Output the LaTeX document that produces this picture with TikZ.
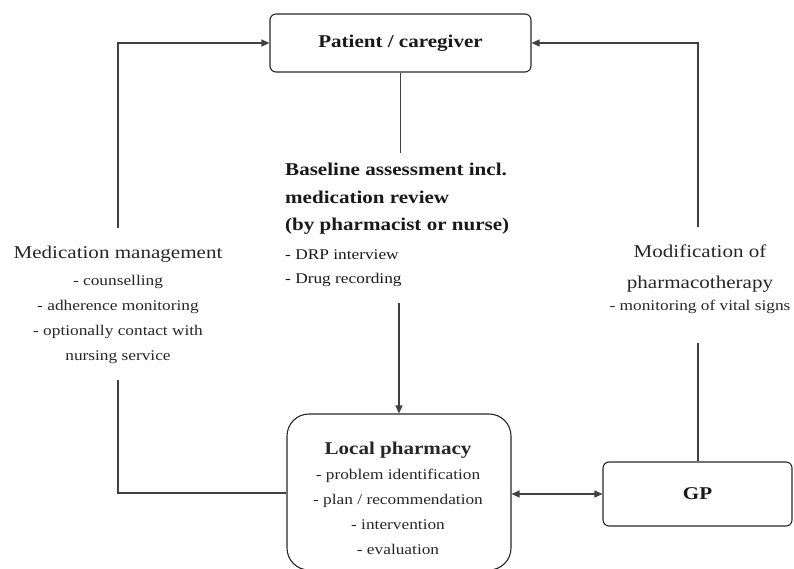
\documentclass[tikz,border=0pt]{standalone}
\usepackage{fontspec}
\setmainfont[FakeStretch=1.17]{Liberation Serif}
\usetikzlibrary{arrows.meta,calc}
\newcommand\myS{\fontsize{14.8}{18}\selectfont}
\begin{document}
\begin{tikzpicture}[x=1pt,y=-1pt,
  box/.style={draw=black!85,line width=1.1pt,rounded corners=6pt,inner sep=0pt},
  conn/.style={draw=black!75,line width=1.2pt},
  tip/.style={-{Triangle[length=8pt,width=7pt]}},
  lbl/.style={font=\fontsize{18}{25}\selectfont,text=black!85,align=center,inner sep=0pt},
  hd/.style={font=\fontsize{18}{22}\selectfont\bfseries,text=black!90}]
\useasboundingbox (0,0) rectangle (794,569);
\node[box,minimum width=261pt,minimum height=58pt,hd] (patient) at (400.5,43) {Patient / caregiver};
\node[box,rounded corners=22pt,minimum width=224pt,minimum height=156pt] (pharm) at (399,492) {};
\node[lbl,font=\fontsize{18}{25}\selectfont,anchor=center] (pharmtext) at (398,498)
  {\textbf{Local pharmacy}\\ {\myS - problem identification}\\ {\myS - plan / recommendation}\\ {\myS - intervention}\\ {\myS - evaluation}};
\node[box,minimum width=189pt,minimum height=64pt,hd] (gp) at (697.5,494) {GP};
\node[anchor=west,align=left,inner sep=0pt,font=\fontsize{18}{27.5}\selectfont,text=black!90] (base) at (285,225)
  {\textbf{Baseline assessment incl.}\\
   \textbf{medication review}\\
   \textbf{(by pharmacist or nurse)}\\[1pt]
   {\myS - DRP interview}\\[-3pt]
   {\myS - Drug recording}};
\node[lbl] (mm) at (118,305) {Medication management\\[2pt] {\myS - counselling}\\ {\myS - adherence monitoring}\\ {\myS - optionally contact with}\\ {\myS nursing service}};
\node[lbl] (mod) at (700,279) {Modification of\\[6pt] pharmacotherapy\\[-3pt] {\myS - monitoring of vital signs}};
% connectors
\coordinate (mmtop) at (118,228);
\coordinate (mmbot) at (118,380);
\coordinate (modtop) at (698,227);
\coordinate (modbot) at (698,343);
\coordinate (basetop) at (400.5,153);
\coordinate (basebot) at (399,303);
\coordinate (lc) at (118,493);
\draw[conn] (pharm.west |- lc) -- (lc) -- (mmbot);
\draw[conn,tip] (mmtop) |- (patient.west);
\draw[conn] (gp.north -| modbot) -- (modbot);
\draw[conn,tip] (modtop) |- (patient.east);
\draw[conn] (patient.south) -- (basetop);
\draw[conn,tip] (basebot) -- (pharm.north);
\draw[conn,{Triangle[length=8pt,width=7pt]}-{Triangle[length=8pt,width=7pt]}] (pharm.east |- gp.west) -- (gp.west);
\end{tikzpicture}
\end{document}
